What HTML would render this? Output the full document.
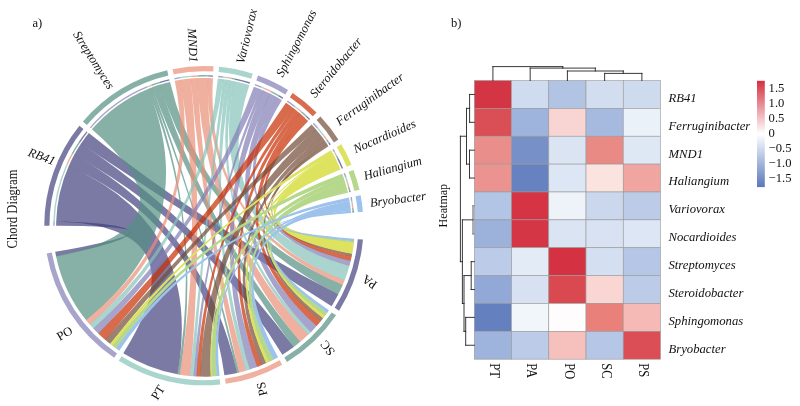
<!DOCTYPE html>
<html><head><meta charset="utf-8"><title>Chord diagram and heatmap</title>
<style>html,body{margin:0;padding:0;background:#fff}svg{display:block;will-change:transform;transform:translateZ(0)}text{font-family:"Liberation Serif",serif;font-size:12.6px;fill:#111}</style></head>
<body><svg width="800" height="406" viewBox="0 0 800 406">
<rect width="800" height="406" fill="#fff"/>
<g fill-opacity="0.7"><path d="M80.9 143.84A147.75 147.75 0 0 1 88.77 133.1Q203.9 225.7 338.35 294.31A150.95 150.95 0 0 1 331.63 306.14Q203.9 225.7 80.9 143.84Z" fill="#42417E"/><path d="M159.82 84.68A147.75 147.75 0 0 1 170.05 81.88Q203.9 225.7 342.81 284.78A150.95 150.95 0 0 1 338.21 294.6Q203.9 225.7 159.82 84.68Z" fill="#549081"/><path d="M207.93 78A147.75 147.75 0 0 1 212.98 78.23Q203.9 225.7 344.63 280.29A150.95 150.95 0 0 1 342.68 285.07Q203.9 225.7 207.93 78Z" fill="#EA8E76"/><path d="M234.39 81.13A147.75 147.75 0 0 1 249.29 85.09Q203.9 225.7 349.47 265.64A150.95 150.95 0 0 1 344.52 280.58Q203.9 225.7 234.39 81.13Z" fill="#84C3B9"/><path d="M277.29 97.47A147.75 147.75 0 0 1 281.88 100.2Q203.9 225.7 350.75 260.66A150.95 150.95 0 0 1 349.39 265.94Q203.9 225.7 277.29 97.47Z" fill="#817EB5"/><path d="M304.65 117.63A147.75 147.75 0 0 1 308.23 121.08Q203.9 225.7 351.78 256.01A150.95 150.95 0 0 1 350.67 260.97Q203.9 225.7 304.65 117.63Z" fill="#C92C02"/><path d="M326.87 143.79A147.75 147.75 0 0 1 328.42 146.17Q203.9 225.7 352.27 253.48A150.95 150.95 0 0 1 351.71 256.32Q203.9 225.7 326.87 143.79Z" fill="#724C36"/><path d="M335.66 158.85A147.75 147.75 0 0 1 340.51 169.43Q203.9 225.7 353.96 242.09A150.95 150.95 0 0 1 352.2 253.84Q203.9 225.7 335.66 158.85Z" fill="#DDE25F" fill-opacity="1"/><path d="M347.56 191.19A147.75 147.75 0 0 1 347.93 192.75Q203.9 225.7 354.08 240.88A150.95 150.95 0 0 1 353.91 242.51Q203.9 225.7 347.56 191.19Z" fill="#B5D88B" fill-opacity="1"/><path d="M350.86 210.43A147.75 147.75 0 0 1 351.11 213.03Q203.9 225.7 354.29 238.65A150.95 150.95 0 0 1 354.04 241.3Q203.9 225.7 350.86 210.43Z" fill="#9DC3EC" fill-opacity="1"/><path d="M74.11 155.1A147.75 147.75 0 0 1 81.07 143.58Q203.9 225.7 293.75 347A150.95 150.95 0 0 1 282.34 354.67Q203.9 225.7 74.11 155.1Z" fill="#42417E"/><path d="M152.08 87.34A147.75 147.75 0 0 1 160.11 84.59Q203.9 225.7 300.33 341.84A150.95 150.95 0 0 1 293.49 347.19Q203.9 225.7 152.08 87.34Z" fill="#549081"/><path d="M197.32 78.1A147.75 147.75 0 0 1 208.24 78.01Q203.9 225.7 308.41 334.62A150.95 150.95 0 0 1 300.08 342.04Q203.9 225.7 197.32 78.1Z" fill="#EA8E76"/><path d="M230.71 80.4A147.75 147.75 0 0 1 234.7 81.2Q203.9 225.7 311.15 331.93A150.95 150.95 0 0 1 308.19 334.84Q203.9 225.7 230.71 80.4Z" fill="#84C3B9"/><path d="M270.02 93.57A147.75 147.75 0 0 1 277.56 97.62Q203.9 225.7 316.91 325.77A150.95 150.95 0 0 1 310.92 332.15Q203.9 225.7 270.02 93.57Z" fill="#817EB5"/><path d="M299.84 113.34A147.75 147.75 0 0 1 304.88 117.84Q203.9 225.7 321.17 320.75A150.95 150.95 0 0 1 316.7 326.01Q203.9 225.7 299.84 113.34Z" fill="#C92C02"/><path d="M324.96 141A147.75 147.75 0 0 1 327.04 144.05Q203.9 225.7 323.31 318.04A150.95 150.95 0 0 1 320.97 321Q203.9 225.7 324.96 141Z" fill="#724C36"/><path d="M334.33 156.28A147.75 147.75 0 0 1 335.85 159.22Q203.9 225.7 325.13 315.64A150.95 150.95 0 0 1 323.09 318.33Q203.9 225.7 334.33 156.28Z" fill="#DDE25F" fill-opacity="1"/><path d="M346.58 187.31A147.75 147.75 0 0 1 347.66 191.59Q203.9 225.7 327.52 312.32A150.95 150.95 0 0 1 324.88 315.97Q203.9 225.7 346.58 187.31Z" fill="#B5D88B" fill-opacity="1"/><path d="M350.58 207.98A147.75 147.75 0 0 1 350.9 210.84Q203.9 225.7 328.95 310.24A150.95 150.95 0 0 1 327.28 312.67Q203.9 225.7 350.58 207.98Z" fill="#9DC3EC" fill-opacity="1"/><path d="M68.64 166.23A147.75 147.75 0 0 1 74.25 154.83Q203.9 225.7 237.2 372.93A150.95 150.95 0 0 1 224.42 375.25Q203.9 225.7 68.64 166.23Z" fill="#42417E"/><path d="M150.1 88.09A147.75 147.75 0 0 1 152.37 87.23Q203.9 225.7 239.3 372.44A150.95 150.95 0 0 1 236.89 373Q203.9 225.7 150.1 88.09Z" fill="#549081"/><path d="M190.59 78.55A147.75 147.75 0 0 1 197.63 78.08Q203.9 225.7 245.96 370.67A150.95 150.95 0 0 1 238.99 372.51Q203.9 225.7 190.59 78.55Z" fill="#EA8E76"/><path d="M226.47 79.68A147.75 147.75 0 0 1 231.02 80.46Q203.9 225.7 250.16 369.39A150.95 150.95 0 0 1 245.65 370.76Q203.9 225.7 226.47 79.68Z" fill="#84C3B9"/><path d="M263.02 90.29A147.75 147.75 0 0 1 270.29 93.71Q203.9 225.7 257.6 366.77A150.95 150.95 0 0 1 249.86 369.48Q203.9 225.7 263.02 90.29Z" fill="#817EB5"/><path d="M296.3 110.41A147.75 147.75 0 0 1 300.08 113.54Q203.9 225.7 261.97 365.03A150.95 150.95 0 0 1 257.31 366.89Q203.9 225.7 296.3 110.41Z" fill="#C92C02"/><path d="M322.11 137.07A147.75 147.75 0 0 1 325.14 141.25Q203.9 225.7 266.51 363.05A150.95 150.95 0 0 1 261.67 365.16Q203.9 225.7 322.11 137.07Z" fill="#724C36"/><path d="M332.94 153.73A147.75 147.75 0 0 1 334.52 156.65Q203.9 225.7 269.25 361.77A150.95 150.95 0 0 1 266.17 363.21Q203.9 225.7 332.94 153.73Z" fill="#DDE25F" fill-opacity="1"/><path d="M345.17 182.43A147.75 147.75 0 0 1 346.68 187.71Q203.9 225.7 273.89 359.44A150.95 150.95 0 0 1 268.87 361.95Q203.9 225.7 345.17 182.43Z" fill="#B5D88B" fill-opacity="1"/><path d="M349.95 203.32A147.75 147.75 0 0 1 350.63 208.39Q203.9 225.7 278.11 357.15A150.95 150.95 0 0 1 273.51 359.64Q203.9 225.7 349.95 203.32Z" fill="#9DC3EC" fill-opacity="1"/><path d="M56.21 221.48A147.75 147.75 0 0 1 68.77 165.95Q203.9 225.7 177.53 374.33A150.95 150.95 0 0 1 123.3 353.33Q203.9 225.7 56.21 221.48Z" fill="#42417E"/><path d="M147.84 89A147.75 147.75 0 0 1 150.39 87.98Q203.9 225.7 179.99 374.74A150.95 150.95 0 0 1 177.22 374.27Q203.9 225.7 147.84 89Z" fill="#549081"/><path d="M180.48 79.82A147.75 147.75 0 0 1 190.9 78.52Q203.9 225.7 190.33 376.04A150.95 150.95 0 0 1 179.68 374.69Q203.9 225.7 180.48 79.82Z" fill="#EA8E76"/><path d="M223.08 79.2A147.75 147.75 0 0 1 226.78 79.73Q203.9 225.7 193.82 376.31A150.95 150.95 0 0 1 190.01 376.01Q203.9 225.7 223.08 79.2Z" fill="#84C3B9"/><path d="M260.28 89.13A147.75 147.75 0 0 1 263.31 90.42Q203.9 225.7 196.86 376.49A150.95 150.95 0 0 1 193.5 376.29Q203.9 225.7 260.28 89.13Z" fill="#817EB5"/><path d="M293.3 108.07A147.75 147.75 0 0 1 296.54 110.6Q203.9 225.7 200.74 376.62A150.95 150.95 0 0 1 196.54 376.47Q203.9 225.7 293.3 108.07Z" fill="#C92C02"/><path d="M315.81 129.23A147.75 147.75 0 0 1 322.3 137.31Q203.9 225.7 211.01 376.48A150.95 150.95 0 0 1 200.43 376.61Q203.9 225.7 315.81 129.23Z" fill="#724C36"/><path d="M332.45 152.86A147.75 147.75 0 0 1 333.14 154.09Q203.9 225.7 212.08 376.43A150.95 150.95 0 0 1 210.64 376.5Q203.9 225.7 332.45 152.86Z" fill="#DDE25F" fill-opacity="1"/><path d="M343.66 177.76A147.75 147.75 0 0 1 345.29 182.82Q203.9 225.7 217.09 376.07A150.95 150.95 0 0 1 211.66 376.45Q203.9 225.7 343.66 177.76Z" fill="#B5D88B" fill-opacity="1"/><path d="M349.56 200.92A147.75 147.75 0 0 1 350.01 203.73Q203.9 225.7 219.56 375.84A150.95 150.95 0 0 1 216.67 376.11Q203.9 225.7 349.56 200.92Z" fill="#9DC3EC" fill-opacity="1"/><path d="M56.15 225.85A147.75 147.75 0 0 1 56.22 221.17Q203.9 225.7 56.12 256.46A150.95 150.95 0 0 1 55.22 251.76Q203.9 225.7 56.15 225.85Z" fill="#42417E"/><path d="M91.87 129.37A147.75 147.75 0 0 1 148.12 88.88Q203.9 225.7 86.21 320.22A150.95 150.95 0 0 1 56.05 256.15Q203.9 225.7 91.87 129.37Z" fill="#549081"/><path d="M174.78 80.85A147.75 147.75 0 0 1 180.78 79.77Q203.9 225.7 90 324.76A150.95 150.95 0 0 1 86.01 319.98Q203.9 225.7 174.78 80.85Z" fill="#EA8E76"/><path d="M217.81 78.61A147.75 147.75 0 0 1 223.39 79.24Q203.9 225.7 93.62 328.78A150.95 150.95 0 0 1 89.79 324.52Q203.9 225.7 217.81 78.61Z" fill="#84C3B9"/><path d="M253.88 86.66A147.75 147.75 0 0 1 260.57 89.25Q203.9 225.7 98.53 333.79A150.95 150.95 0 0 1 93.41 328.54Q203.9 225.7 253.88 86.66Z" fill="#817EB5"/><path d="M285.95 102.83A147.75 147.75 0 0 1 293.55 108.25Q203.9 225.7 105.32 340.02A150.95 150.95 0 0 1 98.3 333.57Q203.9 225.7 285.95 102.83Z" fill="#C92C02"/><path d="M311.6 124.56A147.75 147.75 0 0 1 316.01 129.47Q203.9 225.7 110.28 344.11A150.95 150.95 0 0 1 105.08 339.81Q203.9 225.7 311.6 124.56Z" fill="#724C36"/><path d="M330.93 150.25A147.75 147.75 0 0 1 332.65 153.22Q203.9 225.7 112.76 346.03A150.95 150.95 0 0 1 109.99 343.88Q203.9 225.7 330.93 150.25Z" fill="#DDE25F" fill-opacity="1"/><path d="M342.25 173.84A147.75 147.75 0 0 1 343.79 178.15Q203.9 225.7 116.18 348.55A150.95 150.95 0 0 1 112.42 345.77Q203.9 225.7 342.25 173.84Z" fill="#B5D88B" fill-opacity="1"/><path d="M348.91 197.39A147.75 147.75 0 0 1 349.63 201.33Q203.9 225.7 119.2 350.64A150.95 150.95 0 0 1 115.84 348.3Q203.9 225.7 348.91 197.39Z" fill="#9DC3EC" fill-opacity="1"/></g>
<path d="M44.25 225.7A159.65 159.65 0 0 1 79.39 125.77L83.45 129.03A154.45 154.45 0 0 0 49.45 225.7Z" fill="#7B7AA5"/>
<path d="M82.95 121.49A159.65 159.65 0 0 1 167.16 70.34L168.36 75.4A154.45 154.45 0 0 0 86.89 124.88Z" fill="#87B1A7"/>
<path d="M172.6 69.15A159.65 159.65 0 0 1 213.55 66.34L213.23 71.53A154.45 154.45 0 0 0 173.62 74.25Z" fill="#F0B09F"/>
<path d="M219.1 66.78A159.65 159.65 0 0 1 252.78 73.72L251.19 78.67A154.45 154.45 0 0 0 218.61 71.95Z" fill="#A9D5CE"/>
<path d="M258.06 75.52A159.65 159.65 0 0 1 288.02 90.01L285.28 94.43A154.45 154.45 0 0 0 256.29 80.41Z" fill="#A7A5CB"/>
<path d="M292.7 93.03A159.65 159.65 0 0 1 316.51 112.53L312.84 116.22A154.45 154.45 0 0 0 289.81 97.35Z" fill="#D96B4E"/>
<path d="M320.39 116.53A159.65 159.65 0 0 1 338.36 139.62L333.98 142.42A154.45 154.45 0 0 0 316.6 120.09Z" fill="#9C8272"/>
<path d="M341.28 144.37A159.65 159.65 0 0 1 351.43 164.69L346.63 166.68A154.45 154.45 0 0 0 336.8 147.01Z" fill="#DDE25F"/>
<path d="M353.47 169.88A159.65 159.65 0 0 1 359.48 189.87L354.41 191.04A154.45 154.45 0 0 0 348.6 171.69Z" fill="#B5D88B"/>
<path d="M360.63 195.33A159.65 159.65 0 0 1 362.94 211.79L357.76 212.24A154.45 154.45 0 0 0 355.53 196.32Z" fill="#9DC3EC"/>
<path d="M362.94 239.61A159.65 159.65 0 0 1 339.08 310.64L334.68 307.87A154.45 154.45 0 0 0 357.76 239.16Z" fill="#7B7AA5"/>
<path d="M336.04 315.3A159.65 159.65 0 0 1 287 362.02L284.29 357.58A154.45 154.45 0 0 0 331.73 312.38Z" fill="#87B1A7"/>
<path d="M282.19 364.84A159.65 159.65 0 0 1 225.77 383.85L225.06 378.69A154.45 154.45 0 0 0 279.64 360.3Z" fill="#F0B09F"/>
<path d="M220.24 384.51A159.65 159.65 0 0 1 118.79 360.77L121.56 356.37A154.45 154.45 0 0 0 219.7 379.34Z" fill="#A9D5CE"/>
<path d="M114.13 357.72A159.65 159.65 0 0 1 46.68 253.42L51.8 252.52A154.45 154.45 0 0 0 117.05 353.42Z" fill="#A7A5CB"/>
<path d="M78.61 142.13A150.6 150.6 0 0 1 86.45 131.44L87.54 132.31A149.2 149.2 0 0 0 79.78 142.91Z" fill="#7B7AA5"/>
<path d="M71.68 153.6A150.6 150.6 0 0 1 78.61 142.13L79.78 142.91A149.2 149.2 0 0 0 72.91 154.27Z" fill="#87B1A7"/>
<path d="M66.1 164.94A150.6 150.6 0 0 1 71.68 153.6L72.91 154.27A149.2 149.2 0 0 0 67.38 165.51Z" fill="#F0B09F"/>
<path d="M53.37 221.24A150.6 150.6 0 0 1 66.1 164.94L67.38 165.51A149.2 149.2 0 0 0 54.77 221.28Z" fill="#A9D5CE"/>
<path d="M53.3 225.7A150.6 150.6 0 0 1 53.37 221.24L54.77 221.28A149.2 149.2 0 0 0 54.7 225.7Z" fill="#A7A5CB"/>
<path d="M159.12 81.91A150.6 150.6 0 0 1 169.24 79.14L169.56 80.5A149.2 149.2 0 0 0 159.53 83.25Z" fill="#7B7AA5"/>
<path d="M151.23 84.61A150.6 150.6 0 0 1 159.12 81.91L159.53 83.25A149.2 149.2 0 0 0 151.71 85.92Z" fill="#87B1A7"/>
<path d="M149.21 85.38A150.6 150.6 0 0 1 151.23 84.61L151.71 85.92A149.2 149.2 0 0 0 149.72 86.68Z" fill="#F0B09F"/>
<path d="M146.9 86.3A150.6 150.6 0 0 1 149.21 85.38L149.72 86.68A149.2 149.2 0 0 0 147.43 87.6Z" fill="#A9D5CE"/>
<path d="M89.81 127.4A150.6 150.6 0 0 1 146.9 86.3L147.43 87.6A149.2 149.2 0 0 0 90.87 128.31Z" fill="#A7A5CB"/>
<path d="M208.16 75.16A150.6 150.6 0 0 1 213 75.38L212.91 76.77A149.2 149.2 0 0 0 208.12 76.56Z" fill="#7B7AA5"/>
<path d="M197.35 75.24A150.6 150.6 0 0 1 208.16 75.16L208.12 76.56A149.2 149.2 0 0 0 197.41 76.64Z" fill="#87B1A7"/>
<path d="M190.49 75.7A150.6 150.6 0 0 1 197.35 75.24L197.41 76.64A149.2 149.2 0 0 0 190.62 77.09Z" fill="#F0B09F"/>
<path d="M180.18 76.98A150.6 150.6 0 0 1 190.49 75.7L190.62 77.09A149.2 149.2 0 0 0 180.4 78.36Z" fill="#A9D5CE"/>
<path d="M174.38 78.02A150.6 150.6 0 0 1 180.18 76.98L180.4 78.36A149.2 149.2 0 0 0 174.65 79.39Z" fill="#A7A5CB"/>
<path d="M235.14 78.38A150.6 150.6 0 0 1 250.01 82.33L249.58 83.67A149.2 149.2 0 0 0 234.85 79.74Z" fill="#7B7AA5"/>
<path d="M231.39 77.63A150.6 150.6 0 0 1 235.14 78.38L234.85 79.74A149.2 149.2 0 0 0 231.13 79.01Z" fill="#87B1A7"/>
<path d="M227.06 76.89A150.6 150.6 0 0 1 231.39 77.63L231.13 79.01A149.2 149.2 0 0 0 226.85 78.28Z" fill="#F0B09F"/>
<path d="M223.6 76.39A150.6 150.6 0 0 1 227.06 76.89L226.85 78.28A149.2 149.2 0 0 0 223.42 77.78Z" fill="#A9D5CE"/>
<path d="M218.24 75.78A150.6 150.6 0 0 1 223.6 76.39L223.42 77.78A149.2 149.2 0 0 0 218.11 77.18Z" fill="#A7A5CB"/>
<path d="M278.84 95.07A150.6 150.6 0 0 1 283.25 97.7L282.51 98.89A149.2 149.2 0 0 0 278.15 96.29Z" fill="#7B7AA5"/>
<path d="M271.43 91.09A150.6 150.6 0 0 1 278.84 95.07L278.15 96.29A149.2 149.2 0 0 0 270.81 92.34Z" fill="#87B1A7"/>
<path d="M264.31 87.75A150.6 150.6 0 0 1 271.43 91.09L270.81 92.34A149.2 149.2 0 0 0 263.75 89.03Z" fill="#F0B09F"/>
<path d="M261.51 86.56A150.6 150.6 0 0 1 264.31 87.75L263.75 89.03A149.2 149.2 0 0 0 260.98 87.85Z" fill="#A9D5CE"/>
<path d="M254.99 84.03A150.6 150.6 0 0 1 261.51 86.56L260.98 87.85A149.2 149.2 0 0 0 254.51 85.35Z" fill="#A7A5CB"/>
<path d="M306.71 115.65A150.6 150.6 0 0 1 310.13 118.95L309.14 119.94A149.2 149.2 0 0 0 305.76 116.68Z" fill="#7B7AA5"/>
<path d="M301.81 111.27A150.6 150.6 0 0 1 306.71 115.65L305.76 116.68A149.2 149.2 0 0 0 300.9 112.34Z" fill="#87B1A7"/>
<path d="M298.21 108.28A150.6 150.6 0 0 1 301.81 111.27L300.9 112.34A149.2 149.2 0 0 0 297.33 109.37Z" fill="#F0B09F"/>
<path d="M295.15 105.89A150.6 150.6 0 0 1 298.21 108.28L297.33 109.37A149.2 149.2 0 0 0 294.3 107.01Z" fill="#A9D5CE"/>
<path d="M287.67 100.55A150.6 150.6 0 0 1 295.15 105.89L294.3 107.01A149.2 149.2 0 0 0 286.89 101.71Z" fill="#A7A5CB"/>
<path d="M329.33 142.34A150.6 150.6 0 0 1 330.73 144.5L329.56 145.25A149.2 149.2 0 0 0 328.16 143.12Z" fill="#7B7AA5"/>
<path d="M327.38 139.49A150.6 150.6 0 0 1 329.33 142.34L328.16 143.12A149.2 149.2 0 0 0 326.24 140.29Z" fill="#87B1A7"/>
<path d="M324.49 135.48A150.6 150.6 0 0 1 327.38 139.49L326.24 140.29A149.2 149.2 0 0 0 323.37 136.32Z" fill="#F0B09F"/>
<path d="M318.07 127.49A150.6 150.6 0 0 1 324.49 135.48L323.37 136.32A149.2 149.2 0 0 0 317.01 128.4Z" fill="#A9D5CE"/>
<path d="M313.79 122.72A150.6 150.6 0 0 1 318.07 127.49L317.01 128.4A149.2 149.2 0 0 0 312.77 123.68Z" fill="#A7A5CB"/>
<path d="M338.3 157.75A150.6 150.6 0 0 1 343.07 168.15L341.78 168.68A149.2 149.2 0 0 0 337.05 158.38Z" fill="#7B7AA5"/>
<path d="M336.94 155.13A150.6 150.6 0 0 1 338.3 157.75L337.05 158.38A149.2 149.2 0 0 0 335.7 155.78Z" fill="#87B1A7"/>
<path d="M335.53 152.52A150.6 150.6 0 0 1 336.94 155.13L335.7 155.78A149.2 149.2 0 0 0 334.3 153.2Z" fill="#F0B09F"/>
<path d="M335.03 151.64A150.6 150.6 0 0 1 335.53 152.52L334.3 153.2A149.2 149.2 0 0 0 333.81 152.32Z" fill="#A9D5CE"/>
<path d="M333.49 148.98A150.6 150.6 0 0 1 335.03 151.64L333.81 152.32A149.2 149.2 0 0 0 332.29 149.69Z" fill="#A7A5CB"/>
<path d="M350.38 190.73A150.6 150.6 0 0 1 350.66 191.91L349.29 192.22A149.2 149.2 0 0 0 349.02 191.05Z" fill="#7B7AA5"/>
<path d="M349.38 186.77A150.6 150.6 0 0 1 350.38 190.73L349.02 191.05A149.2 149.2 0 0 0 348.03 187.14Z" fill="#87B1A7"/>
<path d="M347.96 181.79A150.6 150.6 0 0 1 349.38 186.77L348.03 187.14A149.2 149.2 0 0 0 346.62 182.2Z" fill="#F0B09F"/>
<path d="M346.42 177.03A150.6 150.6 0 0 1 347.96 181.79L346.62 182.2A149.2 149.2 0 0 0 345.1 177.49Z" fill="#A9D5CE"/>
<path d="M344.99 173.04A150.6 150.6 0 0 1 346.42 177.03L345.1 177.49A149.2 149.2 0 0 0 343.68 173.53Z" fill="#A7A5CB"/>
<path d="M353.72 210.35A150.6 150.6 0 0 1 353.93 212.57L352.53 212.7A149.2 149.2 0 0 0 352.32 210.49Z" fill="#7B7AA5"/>
<path d="M353.44 207.85A150.6 150.6 0 0 1 353.72 210.35L352.32 210.49A149.2 149.2 0 0 0 352.05 208.01Z" fill="#87B1A7"/>
<path d="M352.79 203.1A150.6 150.6 0 0 1 353.44 207.85L352.05 208.01A149.2 149.2 0 0 0 351.41 203.31Z" fill="#F0B09F"/>
<path d="M352.4 200.65A150.6 150.6 0 0 1 352.79 203.1L351.41 203.31A149.2 149.2 0 0 0 351.02 200.88Z" fill="#A9D5CE"/>
<path d="M351.75 197.05A150.6 150.6 0 0 1 352.4 200.65L351.02 200.88A149.2 149.2 0 0 0 350.37 197.31Z" fill="#A7A5CB"/>
<text transform="translate(54.74 161.46) rotate(20.7)" text-anchor="end" dy="0.32em" font-style="italic" style="font-size:12.5px">RB41</text>
<text transform="translate(111.43 88.08) rotate(57.8)" text-anchor="end" dy="0.32em" font-style="italic" style="font-size:12.5px">Streptomyces</text>
<text transform="translate(193.62 62.32) rotate(87)" text-anchor="end" dy="0.32em" font-style="italic" style="font-size:12.5px">MND1</text>
<text transform="translate(240.22 63.21) rotate(-76.5)" text-anchor="start" dy="0.32em" font-style="italic" style="font-size:12.5px">Variovorax</text>
<text transform="translate(279.25 75.88) rotate(-62.5)" text-anchor="start" dy="0.32em" font-style="italic" style="font-size:12.5px">Sphingomonas</text>
<text transform="translate(312.08 95.86) rotate(-50.1)" text-anchor="start" dy="0.32em" font-style="italic" style="font-size:12.5px">Steroidobacter</text>
<text transform="translate(337.22 122.66) rotate(-36)" text-anchor="start" dy="0.32em" font-style="italic" style="font-size:12.5px">Ferruginibacter</text>
<text transform="translate(353.81 149.65) rotate(-23.5)" text-anchor="start" dy="0.32em" font-style="italic" style="font-size:12.5px">Nocardioides</text>
<text transform="translate(363.81 176.2) rotate(-15.65)" text-anchor="start" dy="0.32em" font-style="italic" style="font-size:12.5px">Haliangium</text>
<text transform="translate(369.95 202.95) rotate(-7.5)" text-anchor="start" dy="0.32em" font-style="italic" style="font-size:12.5px">Bryobacter</text>
<text transform="translate(369.5 282) rotate(215.4)" text-anchor="middle" dy="0.33em" style="font-size:12.5px">PA</text>
<text transform="translate(327.6 347.9) rotate(232.1)" text-anchor="middle" dy="0.33em" style="font-size:12.5px">SC</text>
<text transform="translate(261.9 388.9) rotate(256.6)" text-anchor="middle" dy="0.33em" style="font-size:12.5px">PS</text>
<text transform="translate(157.9 392.5) rotate(-57.7)" text-anchor="middle" dy="0.33em" style="font-size:12.5px">PT</text>
<text transform="translate(64.5 333.4) rotate(-30)" text-anchor="middle" dy="0.33em" style="font-size:12.5px">PO</text>
<g stroke="#999999" stroke-width="0.6">
<rect x="474.3" y="80.5" width="37.24" height="27.87" fill="#D43545"/>
<rect x="511.54" y="80.5" width="37.24" height="27.87" fill="#CFDBEE"/>
<rect x="548.78" y="80.5" width="37.24" height="27.87" fill="#B2C4E4"/>
<rect x="586.02" y="80.5" width="37.24" height="27.87" fill="#D2DDF0"/>
<rect x="623.26" y="80.5" width="37.24" height="27.87" fill="#CEDAEE"/>
<rect x="474.3" y="108.37" width="37.24" height="27.87" fill="#DA4F55"/>
<rect x="511.54" y="108.37" width="37.24" height="27.87" fill="#9EB4DC"/>
<rect x="548.78" y="108.37" width="37.24" height="27.87" fill="#F8D5D2"/>
<rect x="586.02" y="108.37" width="37.24" height="27.87" fill="#A6B9DF"/>
<rect x="623.26" y="108.37" width="37.24" height="27.87" fill="#EBF1F9"/>
<rect x="474.3" y="136.24" width="37.24" height="27.87" fill="#EA8E8B"/>
<rect x="511.54" y="136.24" width="37.24" height="27.87" fill="#7890C8"/>
<rect x="548.78" y="136.24" width="37.24" height="27.87" fill="#DAE4F3"/>
<rect x="586.02" y="136.24" width="37.24" height="27.87" fill="#E98A85"/>
<rect x="623.26" y="136.24" width="37.24" height="27.87" fill="#DEE7F4"/>
<rect x="474.3" y="164.11" width="37.24" height="27.87" fill="#EB9390"/>
<rect x="511.54" y="164.11" width="37.24" height="27.87" fill="#6782C0"/>
<rect x="548.78" y="164.11" width="37.24" height="27.87" fill="#DCE6F4"/>
<rect x="586.02" y="164.11" width="37.24" height="27.87" fill="#FBE3DF"/>
<rect x="623.26" y="164.11" width="37.24" height="27.87" fill="#F0A5A1"/>
<rect x="474.3" y="191.98" width="37.24" height="27.87" fill="#B3C5E5"/>
<rect x="511.54" y="191.98" width="37.24" height="27.87" fill="#D53444"/>
<rect x="548.78" y="191.98" width="37.24" height="27.87" fill="#EEF3FA"/>
<rect x="586.02" y="191.98" width="37.24" height="27.87" fill="#CAD7ED"/>
<rect x="623.26" y="191.98" width="37.24" height="27.87" fill="#BBCBE8"/>
<rect x="474.3" y="219.85" width="37.24" height="27.87" fill="#9CB2DB"/>
<rect x="511.54" y="219.85" width="37.24" height="27.87" fill="#D53646"/>
<rect x="548.78" y="219.85" width="37.24" height="27.87" fill="#DAE4F3"/>
<rect x="586.02" y="219.85" width="37.24" height="27.87" fill="#D8E2F2"/>
<rect x="623.26" y="219.85" width="37.24" height="27.87" fill="#DCE6F4"/>
<rect x="474.3" y="247.72" width="37.24" height="27.87" fill="#BBCBE8"/>
<rect x="511.54" y="247.72" width="37.24" height="27.87" fill="#E3EBF6"/>
<rect x="548.78" y="247.72" width="37.24" height="27.87" fill="#D43243"/>
<rect x="586.02" y="247.72" width="37.24" height="27.87" fill="#D4DFF1"/>
<rect x="623.26" y="247.72" width="37.24" height="27.87" fill="#B5C6E6"/>
<rect x="474.3" y="275.59" width="37.24" height="27.87" fill="#92A8D7"/>
<rect x="511.54" y="275.59" width="37.24" height="27.87" fill="#D7E1F2"/>
<rect x="548.78" y="275.59" width="37.24" height="27.87" fill="#DA4850"/>
<rect x="586.02" y="275.59" width="37.24" height="27.87" fill="#FAD6D3"/>
<rect x="623.26" y="275.59" width="37.24" height="27.87" fill="#BBCBE8"/>
<rect x="474.3" y="303.46" width="37.24" height="27.87" fill="#6580BF"/>
<rect x="511.54" y="303.46" width="37.24" height="27.87" fill="#F1F6FB"/>
<rect x="548.78" y="303.46" width="37.24" height="27.87" fill="#FEFCFC"/>
<rect x="586.02" y="303.46" width="37.24" height="27.87" fill="#E98079"/>
<rect x="623.26" y="303.46" width="37.24" height="27.87" fill="#F5BAB6"/>
<rect x="474.3" y="331.33" width="37.24" height="27.87" fill="#9EB4DC"/>
<rect x="511.54" y="331.33" width="37.24" height="27.87" fill="#BBCBE8"/>
<rect x="548.78" y="331.33" width="37.24" height="27.87" fill="#F6C0BD"/>
<rect x="586.02" y="331.33" width="37.24" height="27.87" fill="#B5C6E6"/>
<rect x="623.26" y="331.33" width="37.24" height="27.87" fill="#DC4E55"/>
</g>
<text x="668.5" y="101.84" font-style="italic" style="font-size:12.7px">RB41</text>
<text x="668.5" y="129.7" font-style="italic" style="font-size:12.7px">Ferruginibacter</text>
<text x="668.5" y="157.58" font-style="italic" style="font-size:12.7px">MND1</text>
<text x="668.5" y="185.44" font-style="italic" style="font-size:12.7px">Haliangium</text>
<text x="668.5" y="213.31" font-style="italic" style="font-size:12.7px">Variovorax</text>
<text x="668.5" y="241.19" font-style="italic" style="font-size:12.7px">Nocardioides</text>
<text x="668.5" y="269.05" font-style="italic" style="font-size:12.7px">Streptomyces</text>
<text x="668.5" y="296.92" font-style="italic" style="font-size:12.7px">Steroidobacter</text>
<text x="668.5" y="324.79" font-style="italic" style="font-size:12.7px">Sphingomonas</text>
<text x="668.5" y="352.66" font-style="italic" style="font-size:12.7px">Bryobacter</text>
<text transform="translate(490.22 363.2) rotate(90) scale(0.89 1)" style="font-size:14.1px">PT</text>
<text transform="translate(527.46 363.2) rotate(90) scale(0.89 1)" style="font-size:14.1px">PA</text>
<text transform="translate(564.7 363.2) rotate(90) scale(0.89 1)" style="font-size:14.1px">PO</text>
<text transform="translate(601.94 363.2) rotate(90) scale(0.89 1)" style="font-size:14.1px">SC</text>
<text transform="translate(639.18 363.2) rotate(90) scale(0.89 1)" style="font-size:14.1px">PS</text>
<g stroke="#222" stroke-width="0.9" fill="none" stroke-linecap="square"><path d="M604.64 80.5L604.64 73.4"/><path d="M641.88 80.5L641.88 73.4"/><path d="M567.4 80.5L567.4 71"/><path d="M530.16 80.5L530.16 68.1"/><path d="M492.92 80.5L492.92 66.6"/><path d="M604.64 73.4L641.88 73.4"/><path d="M623.26 73.4L623.26 71"/><path d="M567.4 71L623.26 71"/><path d="M595.33 71L595.33 68.1"/><path d="M530.16 68.1L595.33 68.1"/><path d="M562.74 68.1L562.74 66.6"/><path d="M492.92 66.6L562.74 66.6"/><path d="M469.6 94.44L474.3 94.44"/><path d="M469.6 122.3L474.3 122.3"/><path d="M469.6 94.44L469.6 122.3"/><path d="M469.5 150.18L474.3 150.18"/><path d="M469.5 178.04L474.3 178.04"/><path d="M469.5 150.18L469.5 178.04"/><path d="M473 205.91L474.3 205.91" stroke="#9a9a9a" stroke-width="1.6"/><path d="M473 233.78L474.3 233.78" stroke="#9a9a9a" stroke-width="1.6"/><path d="M473 205.91L473 233.78" stroke="#9a9a9a" stroke-width="1.6"/><path d="M471.2 261.65L474.3 261.65"/><path d="M471.2 289.52L474.3 289.52"/><path d="M471.2 261.65L471.2 289.52"/><path d="M465.7 317.39L474.3 317.39"/><path d="M465.7 345.26L474.3 345.26"/><path d="M465.7 317.39L465.7 345.26"/><path d="M466.5 108.37L469.6 108.37"/><path d="M466.5 164.11L469.5 164.11"/><path d="M466.5 108.37L466.5 164.11"/><path d="M464 275.59L471.2 275.59"/><path d="M464 331.33L465.7 331.33"/><path d="M464 275.59L464 331.33"/><path d="M462.4 219.85L473 219.85"/><path d="M462.4 303.46L464 303.46"/><path d="M462.4 219.85L462.4 303.46"/><path d="M460.4 136.24L466.5 136.24"/><path d="M460.4 261.65L462.4 261.65"/><path d="M460.4 136.24L460.4 261.65"/></g>
<defs><linearGradient id="cb" x1="0" y1="0" x2="0" y2="1"><stop offset="0" stop-color="#D42F40"/><stop offset="0.5" stop-color="#FFFFFF"/><stop offset="1" stop-color="#5A78BB"/></linearGradient></defs>
<rect x="757" y="80.8" width="7.8" height="106.3" fill="url(#cb)"/>
<text x="768.6" y="88.3" dy="0.32em">1.5</text>
<text x="768.6" y="103.3" dy="0.32em">1.0</text>
<text x="768.6" y="118.3" dy="0.32em">0.5</text>
<text x="768.6" y="133.3" dy="0.32em">0</text>
<text x="768.6" y="148.3" dy="0.32em">−0.5</text>
<text x="768.6" y="163.3" dy="0.32em">−1.0</text>
<text x="768.6" y="178.3" dy="0.32em">−1.5</text>
<text x="32.5" y="27">a)</text><text x="451" y="27">b)</text>
<text transform="translate(16.7 248.4) rotate(-90) scale(0.915 1)" style="font-size:13.8px">Chord Diagram</text>
<text transform="translate(447.4 227.4) rotate(-90) scale(0.915 1)" style="font-size:13.2px">Heatmap</text>
</svg></body></html>
